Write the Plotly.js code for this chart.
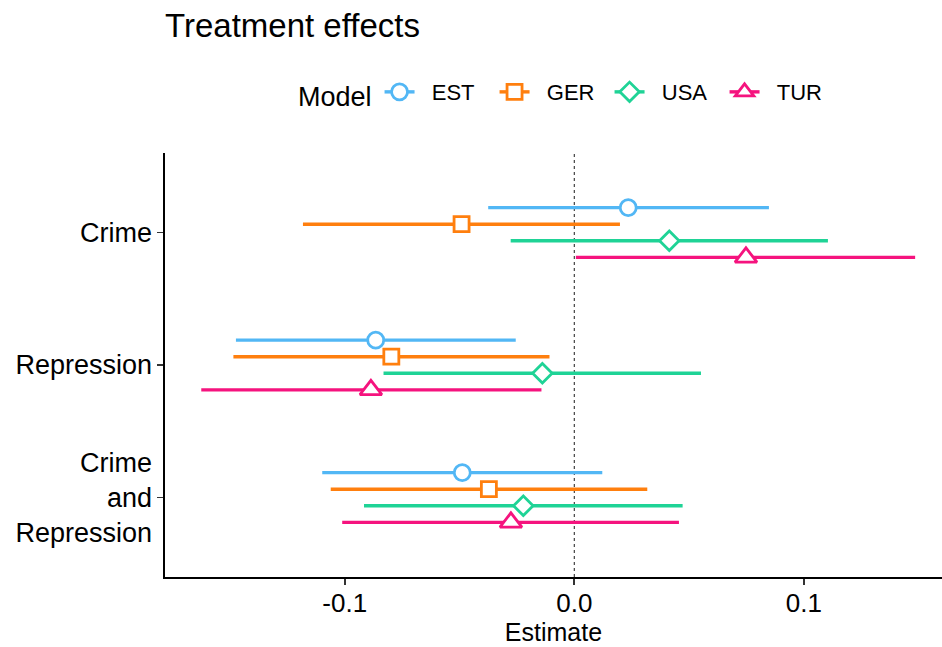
<!DOCTYPE html>
<html>
<head>
<meta charset="utf-8">
<script src="https://cdn.plot.ly/plotly-3.0.1.min.js"></script>
<style>html,body{margin:0;padding:0;background:#fff;}#chart{width:942px;height:647px;}</style>
</head>
<body>
<div id="chart"></div>
<script>
// Outcome categories (top to bottom)
const outcomes = ["Crime", "Repression", "Crime and Repression"];
const outcomeLabels = ["Crime", "Repression", "Crime<br>and<br>Repression"];
const models = ["EST", "GER", "USA", "TUR"];

// Point estimates per model, in the order of `outcomes`
const estEST = [0.0235, -0.0865, -0.0488];
const estGER = [-0.0491, -0.0797, -0.0372];
const estUSA = [0.0414, -0.0139, -0.0222];
const estTUR = [0.0748, -0.0886, -0.0276];

// Lower CI bounds
const loEST = [-0.0375, -0.1474, -0.1098];
const loGER = [-0.1182, -0.1485, -0.1061];
const loUSA = [-0.0277, -0.0831, -0.0916];
const loTUR = [0.0007, -0.1625, -0.1011];

// Upper CI bounds
const hiEST = [0.0848, -0.0255, 0.0122];
const hiGER = [0.0199, -0.0108, 0.0318];
const hiUSA = [0.1105, 0.0552, 0.0472];
const hiTUR = [0.1485, -0.0143, 0.0456];

const xTickVals = [-0.1, 0.0, 0.1];
const xTickText = ["-0.1", "0.0", "0.1"];

const est = [estEST, estGER, estUSA, estTUR];
const lo = [loEST, loGER, loUSA, loTUR];
const hi = [hiEST, hiGER, hiUSA, hiTUR];

const colors = ["#52B7F5", "#FF7F0E", "#1FD396", "#F5137E"];
const symbols = ["circle", "square", "diamond", "triangle-up"];
const sizes = [16, 15, 15, 19];
const dodge = [0.1875, 0.0625, -0.0625, -0.1875];
const FONT = "Liberation Sans, Arial, sans-serif";
const NB = "\u00a0\u00a0";

// y position of category i (Crime at top)
const catY = i => outcomes.length - i;

const traces = [];
// CI lines
models.forEach((m, k) => {
  const xs = [], ys = [];
  outcomes.forEach((o, i) => {
    const y = catY(i) + dodge[k];
    xs.push(lo[k][i], hi[k][i], null);
    ys.push(y, y, null);
  });
  traces.push({
    type: "scatter", mode: "lines", x: xs, y: ys,
    line: {color: colors[k], width: 3.4},
    showlegend: false, hoverinfo: "skip", legendgroup: m
  });
});
// Point estimates (white-filled markers), legend shows line+marker
models.forEach((m, k) => {
  const xs = [], ys = [];
  outcomes.forEach((o, i) => {
    xs.push(est[k][i], null);
    ys.push(catY(i) + dodge[k], null);
  });
  traces.push({
    type: "scatter", mode: "lines+markers", name: NB + m, x: xs, y: ys,
    connectgaps: false, legendgroup: m,
    line: {color: colors[k], width: 3.4},
    marker: {symbol: symbols[k], size: sizes[k], color: "#ffffff",
             line: {color: colors[k], width: 2.8}}
  });
});

const layout = {
  width: 942, height: 647,
  margin: {l: 165, r: 0, t: 153, b: 70},
  paper_bgcolor: "#fff", plot_bgcolor: "#fff",
  font: {family: FONT, color: "#000"},
  title: {text: "Treatment effects", font: {family: FONT, size: 33, color: "#000"},
          x: 0, xref: "paper", xanchor: "left", y: 0.960, yref: "container", yanchor: "middle"},
  xaxis: {
    range: [-0.1783, 0.1602], showgrid: false, zeroline: false,
    showline: true, linecolor: "#000", linewidth: 1.6,
    ticks: "outside", ticklen: 6, tickwidth: 1.6, tickcolor: "#333",
    tickvals: xTickVals, ticktext: xTickText, ticklabelstandoff: -4,
    tickfont: {family: FONT, size: 26, color: "#000"},
    title: {text: "Estimate", font: {family: FONT, size: 25, color: "#000"}, standoff: 7}
  },
  yaxis: {
    range: [0.4, 3.6], showgrid: false, zeroline: false,
    showline: true, linecolor: "#000", linewidth: 1.6,
    ticks: "outside", ticklen: 6, tickwidth: 1.6, tickcolor: "#333",
    tickvals: outcomes.map((o, i) => catY(i)), ticktext: outcomeLabels,
    tickfont: {family: FONT, size: 27, color: "#000"}
  },
  shapes: [{type: "line", xref: "x", yref: "paper", x0: 0, x1: 0, y0: 0, y1: 1,
            line: {color: "#000", width: 0.9, dash: "3px,3px"}, layer: "below"}],
  legend: {
    orientation: "h", x: 0.1686, xanchor: "left", y: 1.139, yanchor: "middle",
    title: {text: "Model", font: {family: FONT, size: 27, color: "#000"}, side: "left"},
    font: {family: FONT, size: 22, color: "#000"},
    itemwidth: 30, entrywidth: 70, entrywidthmode: "pixels",
    traceorder: "normal", bgcolor: "rgba(0,0,0,0)"
  },
  showlegend: true
};

Plotly.newPlot("chart", traces, layout, {displayModeBar: false, staticPlot: true});
</script>
</body>
</html>
